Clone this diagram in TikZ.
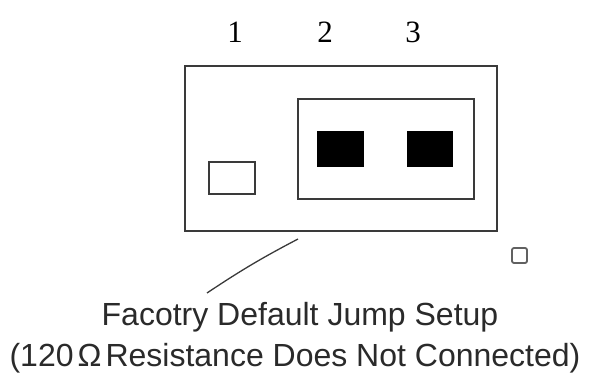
\documentclass[tikz,border=0pt]{standalone}
\usepackage{fontspec}
\newfontfamily\labelfont{Liberation Sans}
\newfontfamily\numfont{Liberation Serif}
\definecolor{edgegray}{HTML}{3A3A3A}
\definecolor{textgray}{HTML}{2A2A2A}
\begin{document}
\begin{tikzpicture}[x=1pt,y=-1pt,
  boxline/.style={draw=edgegray,line width=2pt},
  pinblock/.style={fill=black},
  numlabel/.style={anchor=base,inner sep=0pt,font=\numfont\fontsize{31}{37}\selectfont,text=black},
  notelabel/.style={anchor=base,inner sep=0pt,font=\labelfont\fontsize{32}{38}\selectfont,text=textgray},
  leader/.style={draw=edgegray,line width=1.3pt},
  tinymark/.style={draw=edgegray!80,line width=1.8pt,rounded corners=2pt}]
\useasboundingbox (0,0) rectangle (589,374);
% header numbers
\node[numlabel] (n1) at (235,43) {1};
\node[numlabel] (n2) at (325,43) {2};
\node[numlabel] (n3) at (413,43) {3};
% outer housing
\draw[boxline] (185,66) rectangle (497,231);
\coordinate (outer-south) at (298,239);
% jumper cap around pins 2 and 3
\draw[boxline] (298,99) rectangle (474,199);
% pins
\draw[boxline,line width=1.8pt] (209,162) rectangle (255,194);
\fill[pinblock] (317,131) rectangle (364,167);
\fill[pinblock] (407,131) rectangle (453,167);
% small mark
\draw[tinymark] (512,248) rectangle (527,263);
% notes
\node[notelabel] (note1) at (300,325) {Facotry Default Jump Setup};
\node[notelabel] (note2) at (295,366) {(120\kern4pt Ω\kern4pt Resistance Does Not Connected)};
\coordinate (leaderEnd) at (207,293);
\draw[leader] (outer-south) to[bend right=3] (leaderEnd);
\end{tikzpicture}
\end{document}
